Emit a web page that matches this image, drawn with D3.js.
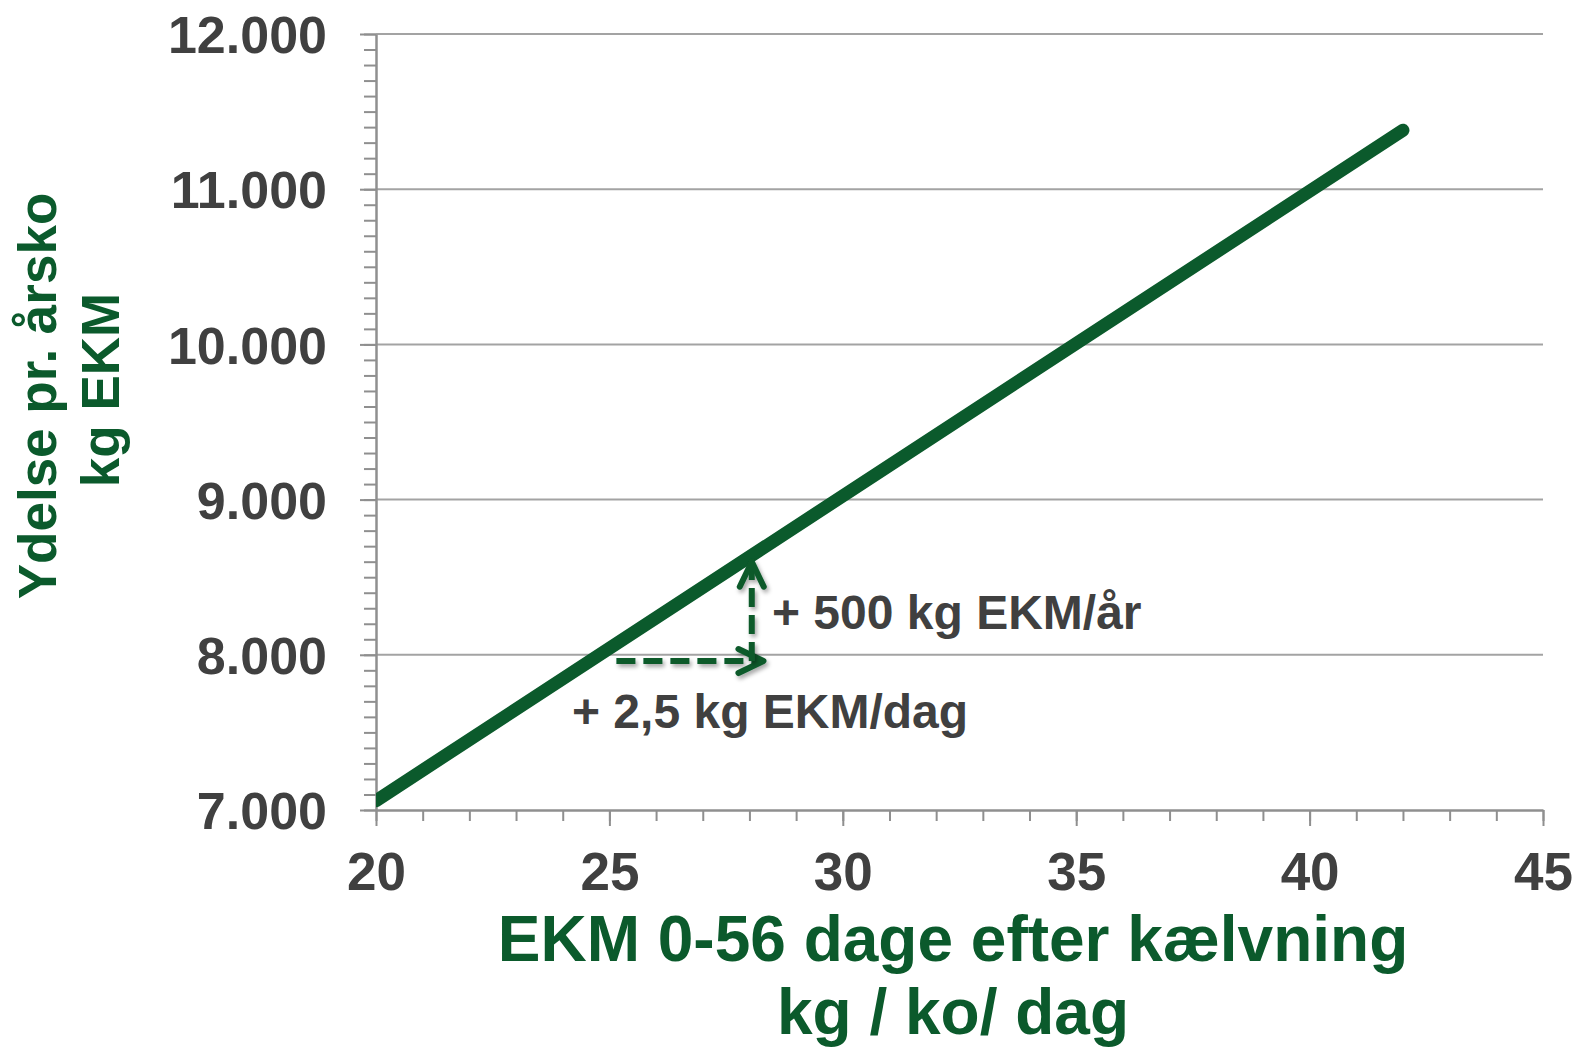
<!DOCTYPE html>
<html lang="da">
  <head>
    <meta charset="UTF-8" />
    <title>Ydelse pr. årsko</title>
    <script src="https://d3js.org/d3.v7.min.js"></script>
    <style>
      body { margin: 0; background: #fff; }
      text { font-family: "Liberation Sans", Arial, sans-serif; font-weight: bold; }
    </style>
  </head>
  <body>
    <div id="graph"></div>
    <script>
      // data
      const xTicks = [20, 25, 30, 35, 40, 45];
      const yTicks = [7000, 8000, 9000, 10000, 11000, 12000];
      const lineX = [20, 42];
      const lineY = [7060, 11380];
      // dashed annotation arrows
      const dagX = [25.15, 28.3];
      const dagY = [7960, 7960];
      const aarX = [28.05, 28.05];
      const aarY = [7960, 8600];
      const labels = ["+ 500 kg EKM/år", "+ 2,5 kg EKM/dag"];

      var W = 1581, H = 1047;
      var green = "#0b5a2c", grey = "#404040", axisGrey = "#8f8f8f";

      var svg = d3.select("#graph").append("svg")
        .attr("width", W).attr("height", H);

      const x = d3.scaleLinear().domain([20, 45]).range([376, 1543]);
      const y = d3.scaleLinear().domain([7000, 12000]).range([810, 34]);

      const loc = d3.formatLocale({ decimal: ",", thousands: ".", grouping: [3], currency: ["", ""] });
      const fmt = loc.format(",");

      var defs = svg.append("defs");
      defs.append("clipPath").attr("id", "plot")
        .append("rect").attr("x", 376).attr("y", 0).attr("width", 1200).attr("height", 812);
      // userSpaceOnUse so a flat line still gets a filter region
      var f = defs.append("filter").attr("id", "shadow")
        .attr("filterUnits", "userSpaceOnUse")
        .attr("x", 0).attr("y", 0).attr("width", W).attr("height", H);
      f.append("feDropShadow").attr("dx", 2).attr("dy", 3).attr("stdDeviation", 2)
        .attr("flood-color", "#000").attr("flood-opacity", 0.35);
      defs.append("marker").attr("id", "head")
        .attr("markerUnits", "userSpaceOnUse")
        .attr("viewBox", "-30 -16 34 32")
        .attr("refX", 0).attr("refY", 0)
        .attr("markerWidth", 34).attr("markerHeight", 32)
        .attr("orient", "auto")
        .append("path")
        .attr("d", "M-25,-12L0,0L-25,12")
        .attr("fill", "none").attr("stroke", green)
        .attr("stroke-width", 6).attr("stroke-linecap", "round")
        .attr("stroke-linejoin", "round");

      // gridlines
      svg.append("g").selectAll("line").data(yTicks.slice(1)).join("line")
        .attr("x1", 376).attr("x2", 1543)
        .attr("y1", d => y(d)).attr("y2", d => y(d))
        .attr("stroke", "#a3a3a3").attr("stroke-width", 2);

      // y minor ticks
      svg.append("g").attr("transform", "translate(376,0)")
        .call(d3.axisLeft(y).tickValues(d3.range(7000, 12001, 100)).tickSize(12).tickFormat(""))
        .call(g => g.select(".domain").remove())
        .selectAll("line").attr("stroke", axisGrey).attr("stroke-width", 2);

      // y axis
      var ya = svg.append("g").attr("transform", "translate(376,0)")
        .call(d3.axisLeft(y).tickValues(yTicks).tickSize(16).tickSizeOuter(0).tickPadding(33).tickFormat(fmt));
      ya.select(".domain").attr("stroke", axisGrey).attr("stroke-width", 2.5);
      ya.selectAll("line").attr("stroke", axisGrey).attr("stroke-width", 2);
      ya.selectAll("text").attr("fill", grey).style("font-size", "52px").attr("dy", "0.36em");

      // x minor ticks
      svg.append("g").attr("transform", "translate(0,810)")
        .call(d3.axisBottom(x).tickValues(d3.range(20, 46, 1)).tickSize(11).tickFormat(""))
        .call(g => g.select(".domain").remove())
        .selectAll("line").attr("stroke", axisGrey).attr("stroke-width", 2);

      // x axis
      var xa = svg.append("g").attr("transform", "translate(0,810)")
        .call(d3.axisBottom(x).tickValues(xTicks).tickSize(16).tickSizeOuter(0).tickPadding(26));
      xa.select(".domain").attr("stroke", axisGrey).attr("stroke-width", 2.5);
      xa.selectAll("line").attr("stroke", axisGrey).attr("stroke-width", 2);
      xa.selectAll("text").attr("fill", grey).style("font-size", "53px");

      // main line
      var line = d3.line().x(d => x(d[0])).y(d => y(d[1]));
      svg.append("path").attr("clip-path", "url(#plot)")
        .attr("d", line(d3.zip(lineX, lineY)))
        .attr("fill", "none").attr("stroke", green)
        .attr("stroke-width", 13).attr("stroke-linecap", "round");

      // arrows
      [[dagX, dagY], [aarX, aarY]].forEach(function (a) {
        svg.append("path")
          .attr("d", line(d3.zip(a[0], a[1])))
          .attr("fill", "none").attr("stroke", green)
          .attr("stroke-width", 6).attr("stroke-dasharray", "19 8")
          .attr("marker-end", "url(#head)")
          .attr("filter", "url(#shadow)");
      });

      svg.append("text").attr("x", 772).attr("y", 629)
        .attr("fill", grey).style("font-size", "48px").text(labels[0]);
      svg.append("text").attr("x", 572).attr("y", 728)
        .attr("fill", grey).style("font-size", "48px").text(labels[1]);

      // axis titles
      svg.append("text").attr("x", 953).attr("y", 961).attr("text-anchor", "middle")
        .attr("fill", green).style("font-size", "64px").text("EKM 0-56 dage efter kælvning");
      svg.append("text").attr("x", 953).attr("y", 1034).attr("text-anchor", "middle")
        .attr("fill", green).style("font-size", "64px").text("kg / ko/ dag");

      svg.append("text").attr("transform", "translate(56,396) rotate(-90)")
        .attr("text-anchor", "middle").attr("fill", green).style("font-size", "53px")
        .text("Ydelse pr. årsko");
      svg.append("text").attr("transform", "translate(119,390) rotate(-90)")
        .attr("text-anchor", "middle").attr("fill", green).style("font-size", "53px")
        .text("kg EKM");
    </script>
  </body>
</html>
